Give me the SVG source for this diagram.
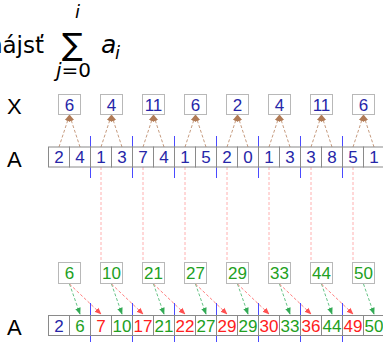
<svg xmlns="http://www.w3.org/2000/svg" width="383" height="342" viewBox="0 0 383 342">
<style>
.t{font-family:"DejaVu Sans",sans-serif;fill:#000}
.ti{font-family:"DejaVu Sans",sans-serif;font-style:italic;fill:#000}
.lab{font-family:"Liberation Sans",Arial,sans-serif;font-size:22px;fill:#000}
.cell{fill:#fff;stroke:#8a8a8a;stroke-width:1}
.box{fill:#fff;stroke:#b8b8b8;stroke-width:1}
.n{font-family:"Liberation Sans",Arial,sans-serif;font-size:17px;text-anchor:middle}
.b{fill:#2626a8}.g{fill:#22a022}.r{fill:#ff2020}
.sep{stroke:#4a4aff;stroke-width:1}
.pk{stroke:#ffb0b0;stroke-width:1;stroke-dasharray:3,2;fill:none}
.br{stroke:#c09070;stroke-width:0.9;stroke-dasharray:3,2;fill:none;marker-end:url(#mb)}
.gr{stroke:#55bb77;stroke-width:0.9;stroke-dasharray:3,2;fill:none;marker-end:url(#mg)}
.rd{stroke:#ff7070;stroke-width:0.9;stroke-dasharray:3,2;fill:none;marker-end:url(#mr)}
</style>
<defs>
<marker id="mb" viewBox="0 0 10 10" refX="9" refY="5" markerWidth="7" markerHeight="7" markerUnits="userSpaceOnUse" orient="auto"><path d="M0,1 L10,5 L0,9 z" fill="#b07a55"/></marker>
<marker id="mg" viewBox="0 0 10 10" refX="9" refY="5" markerWidth="7" markerHeight="7" markerUnits="userSpaceOnUse" orient="auto"><path d="M0,1 L10,5 L0,9 z" fill="#33aa55"/></marker>
<marker id="mr" viewBox="0 0 10 10" refX="9" refY="5" markerWidth="7" markerHeight="7" markerUnits="userSpaceOnUse" orient="auto"><path d="M0,1 L10,5 L0,9 z" fill="#ff5050"/></marker>
</defs>
<rect width="383" height="342" fill="#fff"/>
<g id="title">
<text class="t" x="44" y="53" font-size="23" text-anchor="end">nájsť</text>
<text class="t" x="62" y="55" font-size="31">∑</text>
<text class="ti" x="75" y="18" font-size="18">i</text>
<text class="t" x="56" y="77" font-size="20"><tspan font-style="italic">j</tspan>=0</text>
<text class="ti" x="101" y="53" font-size="25">a</text>
<text class="ti" x="115" y="59" font-size="18">i</text>
</g>
<g id="labels">
<text class="lab" x="7" y="114">X</text>
<text class="lab" x="7" y="167">A</text>
<text class="lab" x="7" y="335">A</text>
</g>
<g id="connectors">
<line class="sep" x1="90.5" y1="136" x2="90.5" y2="178"/>
<line class="sep" x1="132.5" y1="136" x2="132.5" y2="178"/>
<line class="sep" x1="174.5" y1="136" x2="174.5" y2="178"/>
<line class="sep" x1="216.5" y1="136" x2="216.5" y2="178"/>
<line class="sep" x1="258.5" y1="136" x2="258.5" y2="178"/>
<line class="sep" x1="300.5" y1="136" x2="300.5" y2="178"/>
<line class="sep" x1="342.5" y1="136" x2="342.5" y2="178"/>
<line class="sep" x1="90.5" y1="303" x2="90.5" y2="342"/>
<line class="sep" x1="132.5" y1="303" x2="132.5" y2="342"/>
<line class="sep" x1="174.5" y1="303" x2="174.5" y2="342"/>
<line class="sep" x1="216.5" y1="303" x2="216.5" y2="342"/>
<line class="sep" x1="258.5" y1="303" x2="258.5" y2="342"/>
<line class="sep" x1="300.5" y1="303" x2="300.5" y2="342"/>
<line class="sep" x1="342.5" y1="303" x2="342.5" y2="342"/>
<line class="pk" x1="101" y1="167" x2="101" y2="263"/>
<line class="pk" x1="143" y1="167" x2="143" y2="263"/>
<line class="pk" x1="185" y1="167" x2="185" y2="263"/>
<line class="pk" x1="227" y1="167" x2="227" y2="263"/>
<line class="pk" x1="269" y1="167" x2="269" y2="263"/>
<line class="pk" x1="311" y1="167" x2="311" y2="263"/>
<line class="pk" x1="353" y1="167" x2="353" y2="263"/>
<line class="br" x1="59" y1="147" x2="69.5" y2="115"/><line class="br" x1="80" y1="147" x2="69.5" y2="115"/>
<line class="br" x1="101" y1="147" x2="111.5" y2="115"/><line class="br" x1="122" y1="147" x2="111.5" y2="115"/>
<line class="br" x1="143" y1="147" x2="153.5" y2="115"/><line class="br" x1="164" y1="147" x2="153.5" y2="115"/>
<line class="br" x1="185" y1="147" x2="195.5" y2="115"/><line class="br" x1="206" y1="147" x2="195.5" y2="115"/>
<line class="br" x1="227" y1="147" x2="237.5" y2="115"/><line class="br" x1="248" y1="147" x2="237.5" y2="115"/>
<line class="br" x1="269" y1="147" x2="279.5" y2="115"/><line class="br" x1="290" y1="147" x2="279.5" y2="115"/>
<line class="br" x1="311" y1="147" x2="321.5" y2="115"/><line class="br" x1="332" y1="147" x2="321.5" y2="115"/>
<line class="br" x1="353" y1="147" x2="363.5" y2="115"/><line class="br" x1="374" y1="147" x2="363.5" y2="115"/>
<line class="gr" x1="69.5" y1="284" x2="80" y2="314"/><line class="rd" x1="69.5" y1="284" x2="101" y2="314"/>
<line class="gr" x1="111.5" y1="284" x2="122" y2="314"/><line class="rd" x1="111.5" y1="284" x2="143" y2="314"/>
<line class="gr" x1="153.5" y1="284" x2="164" y2="314"/><line class="rd" x1="153.5" y1="284" x2="185" y2="314"/>
<line class="gr" x1="195.5" y1="284" x2="206" y2="314"/><line class="rd" x1="195.5" y1="284" x2="227" y2="314"/>
<line class="gr" x1="237.5" y1="284" x2="248" y2="314"/><line class="rd" x1="237.5" y1="284" x2="269" y2="314"/>
<line class="gr" x1="279.5" y1="284" x2="290" y2="314"/><line class="rd" x1="279.5" y1="284" x2="311" y2="314"/>
<line class="gr" x1="321.5" y1="284" x2="332" y2="314"/><line class="rd" x1="321.5" y1="284" x2="353" y2="314"/>
<line class="gr" x1="363.5" y1="284" x2="374" y2="314"/>
</g>
<g id="X-top">
<g id="xt0"><rect class="box" x="58.5" y="94.5" width="22" height="20"/><text class="n b" x="69.5" y="111">6</text></g>
<g id="xt1"><rect class="box" x="100.5" y="94.5" width="22" height="20"/><text class="n b" x="111.5" y="111">4</text></g>
<g id="xt2"><rect class="box" x="142.5" y="94.5" width="22" height="20"/><text class="n b" x="153.5" y="111">11</text></g>
<g id="xt3"><rect class="box" x="184.5" y="94.5" width="22" height="20"/><text class="n b" x="195.5" y="111">6</text></g>
<g id="xt4"><rect class="box" x="226.5" y="94.5" width="22" height="20"/><text class="n b" x="237.5" y="111">2</text></g>
<g id="xt5"><rect class="box" x="268.5" y="94.5" width="22" height="20"/><text class="n b" x="279.5" y="111">4</text></g>
<g id="xt6"><rect class="box" x="310.5" y="94.5" width="22" height="20"/><text class="n b" x="321.5" y="111">11</text></g>
<g id="xt7"><rect class="box" x="352.5" y="94.5" width="22" height="20"/><text class="n b" x="363.5" y="111">6</text></g>
</g>
<g id="A-top">
<g id="at0"><rect class="cell" x="48.5" y="147" width="21" height="20"/><text class="n b" x="59" y="163">2</text></g>
<g id="at1"><rect class="cell" x="69.5" y="147" width="21" height="20"/><text class="n b" x="80" y="163">4</text></g>
<g id="at2"><rect class="cell" x="90.5" y="147" width="21" height="20"/><text class="n b" x="101" y="163">1</text></g>
<g id="at3"><rect class="cell" x="111.5" y="147" width="21" height="20"/><text class="n b" x="122" y="163">3</text></g>
<g id="at4"><rect class="cell" x="132.5" y="147" width="21" height="20"/><text class="n b" x="143" y="163">7</text></g>
<g id="at5"><rect class="cell" x="153.5" y="147" width="21" height="20"/><text class="n b" x="164" y="163">4</text></g>
<g id="at6"><rect class="cell" x="174.5" y="147" width="21" height="20"/><text class="n b" x="185" y="163">1</text></g>
<g id="at7"><rect class="cell" x="195.5" y="147" width="21" height="20"/><text class="n b" x="206" y="163">5</text></g>
<g id="at8"><rect class="cell" x="216.5" y="147" width="21" height="20"/><text class="n b" x="227" y="163">2</text></g>
<g id="at9"><rect class="cell" x="237.5" y="147" width="21" height="20"/><text class="n b" x="248" y="163">0</text></g>
<g id="at10"><rect class="cell" x="258.5" y="147" width="21" height="20"/><text class="n b" x="269" y="163">1</text></g>
<g id="at11"><rect class="cell" x="279.5" y="147" width="21" height="20"/><text class="n b" x="290" y="163">3</text></g>
<g id="at12"><rect class="cell" x="300.5" y="147" width="21" height="20"/><text class="n b" x="311" y="163">3</text></g>
<g id="at13"><rect class="cell" x="321.5" y="147" width="21" height="20"/><text class="n b" x="332" y="163">8</text></g>
<g id="at14"><rect class="cell" x="342.5" y="147" width="21" height="20"/><text class="n b" x="353" y="163">5</text></g>
<g id="at15"><rect class="cell" x="363.5" y="147" width="21" height="20"/><text class="n b" x="374" y="163">1</text></g>
</g>
<g id="X-bottom">
<g id="xb0"><rect class="box" x="58.5" y="262.5" width="22" height="21"/><text class="n g" x="69.5" y="279">6</text></g>
<g id="xb1"><rect class="box" x="100.5" y="262.5" width="22" height="21"/><text class="n g" x="111.5" y="279">10</text></g>
<g id="xb2"><rect class="box" x="142.5" y="262.5" width="22" height="21"/><text class="n g" x="153.5" y="279">21</text></g>
<g id="xb3"><rect class="box" x="184.5" y="262.5" width="22" height="21"/><text class="n g" x="195.5" y="279">27</text></g>
<g id="xb4"><rect class="box" x="226.5" y="262.5" width="22" height="21"/><text class="n g" x="237.5" y="279">29</text></g>
<g id="xb5"><rect class="box" x="268.5" y="262.5" width="22" height="21"/><text class="n g" x="279.5" y="279">33</text></g>
<g id="xb6"><rect class="box" x="310.5" y="262.5" width="22" height="21"/><text class="n g" x="321.5" y="279">44</text></g>
<g id="xb7"><rect class="box" x="352.5" y="262.5" width="22" height="21"/><text class="n g" x="363.5" y="279">50</text></g>
</g>
<g id="A-bottom">
<g id="ab0"><rect class="cell" x="48.5" y="315.5" width="21" height="20"/><text class="n b" x="59" y="332">2</text></g>
<g id="ab1"><rect class="cell" x="69.5" y="315.5" width="21" height="20"/><text class="n g" x="80" y="332">6</text></g>
<g id="ab2"><rect class="cell" x="90.5" y="315.5" width="21" height="20"/><text class="n r" x="101" y="332">7</text></g>
<g id="ab3"><rect class="cell" x="111.5" y="315.5" width="21" height="20"/><text class="n g" x="122" y="332">10</text></g>
<g id="ab4"><rect class="cell" x="132.5" y="315.5" width="21" height="20"/><text class="n r" x="143" y="332">17</text></g>
<g id="ab5"><rect class="cell" x="153.5" y="315.5" width="21" height="20"/><text class="n g" x="164" y="332">21</text></g>
<g id="ab6"><rect class="cell" x="174.5" y="315.5" width="21" height="20"/><text class="n r" x="185" y="332">22</text></g>
<g id="ab7"><rect class="cell" x="195.5" y="315.5" width="21" height="20"/><text class="n g" x="206" y="332">27</text></g>
<g id="ab8"><rect class="cell" x="216.5" y="315.5" width="21" height="20"/><text class="n r" x="227" y="332">29</text></g>
<g id="ab9"><rect class="cell" x="237.5" y="315.5" width="21" height="20"/><text class="n g" x="248" y="332">29</text></g>
<g id="ab10"><rect class="cell" x="258.5" y="315.5" width="21" height="20"/><text class="n r" x="269" y="332">30</text></g>
<g id="ab11"><rect class="cell" x="279.5" y="315.5" width="21" height="20"/><text class="n g" x="290" y="332">33</text></g>
<g id="ab12"><rect class="cell" x="300.5" y="315.5" width="21" height="20"/><text class="n r" x="311" y="332">36</text></g>
<g id="ab13"><rect class="cell" x="321.5" y="315.5" width="21" height="20"/><text class="n g" x="332" y="332">44</text></g>
<g id="ab14"><rect class="cell" x="342.5" y="315.5" width="21" height="20"/><text class="n r" x="353" y="332">49</text></g>
<g id="ab15"><rect class="cell" x="363.5" y="315.5" width="21" height="20"/><text class="n g" x="374" y="332">50</text></g>
</g>
</svg>
